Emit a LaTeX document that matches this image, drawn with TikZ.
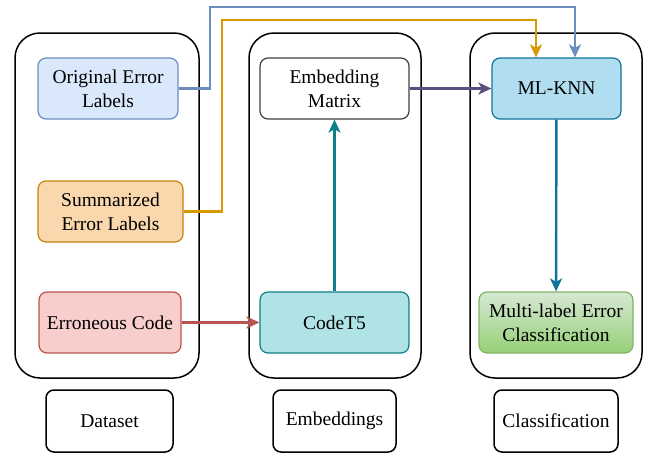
\documentclass[tikz,border=0pt]{standalone}
\usepackage{fontspec}
\setmainfont{Liberation Serif}
\usepackage{xcolor}
\usetikzlibrary{arrows.meta,shapes,calc}
\definecolor{blueF}{HTML}{DAE8FC}\definecolor{blueD}{HTML}{6C8EBF}
\definecolor{orF}{HTML}{FAD7AC}\definecolor{orD}{HTML}{D79B00}\definecolor{orS}{HTML}{C4820E}
\definecolor{redF}{HTML}{F8CECC}\definecolor{redD}{HTML}{B85450}
\definecolor{tealF}{HTML}{B0E3E6}\definecolor{tealD}{HTML}{0E8088}
\definecolor{knnF}{HTML}{B1DDF0}\definecolor{knnD}{HTML}{10739E}
\definecolor{grT}{HTML}{D5E8D4}\definecolor{grB}{HTML}{97D077}\definecolor{grD}{HTML}{82B366}
\definecolor{purD}{HTML}{56517E}

\begin{document}
\begin{tikzpicture}[x=1pt,y=-1pt,
	font=\fontsize{19.5}{24}\selectfont,
	group/.style={draw,line width=1.5pt,rounded corners=25pt,minimum width=#1,minimum height=345pt},
	blk/.style={draw,line width=1.2pt,rounded corners=8pt,align=center,inner sep=0pt,minimum height=61pt},
	tag/.style={draw,line width=1.5pt,rounded corners=8pt,inner sep=0pt,minimum width=124pt,minimum height=62pt},
	link/.style={line width=2.4pt,-{Stealth[length=13pt,width=12pt,inset=3.5pt]}}]
	\useasboundingbox (0,0) rectangle (653,455);
	% the three stages
	\node[group=184pt] (gdata) at (107,205.5) {};
	\node[group=172pt] (gemb) at (335,205.5) {};
	\node[group=172pt] (gcls) at (556,205.5) {};
	\node[tag,minimum width=127pt] (tdata) at (109.5,421) {Dataset};
	\node[tag,minimum width=123pt] (temb) at (334.5,421) {Embeddings};
	\node[tag] (tcls) at (556,421) {Classification};
	% boxes
	\node[blk,fill=blueF,draw=blueD,minimum width=140pt] (orig) at (108,88.5) {Original Error\\Labels};
	\node[blk,fill=orF,draw=orS,minimum width=145pt] (summ) at (110.5,211.5) {Summarized\\Error Labels};
	\node[blk,fill=redF,draw=redD,minimum width=142pt] (code) at (110,322.5) {Erroneous Code};
	\node[blk,fill=white,draw=black!75,minimum width=149pt] (emb) at (334.5,88.5) {Embedding\\Matrix};
	\node[blk,fill=tealF,draw=tealD,minimum width=149pt] (ct5) at (334.5,322.5) {CodeT5};
	\node[blk,fill=knnF,draw=knnD,minimum width=129pt] (knn) at (556.5,88.5) {ML-KNN};
	\node[blk,top color=grT,bottom color=grB,draw=grD,minimum width=154pt] (mlec) at (556,322.5) {Multi-label Error\\Classification};
	% connectors
	\draw[link,draw=redD,color=redD] (code) -- (ct5);
	\draw[link,draw=tealD,color=tealD] (ct5) -- (emb);
	\draw[link,draw=purD,color=purD] (emb) -- (knn);
	\draw[link,draw=knnD,color=knnD] (knn) -- (mlec);
	\draw[link,draw=blueD,color=blueD] (orig.east) -| (210,7) -| ($(knn.north)+(18.5,0)$);
	\draw[link,draw=orD,color=orD] (summ.east) -| (222,20) -| ($(knn.north)+(-20.5,0)$);
\end{tikzpicture}
\end{document}
